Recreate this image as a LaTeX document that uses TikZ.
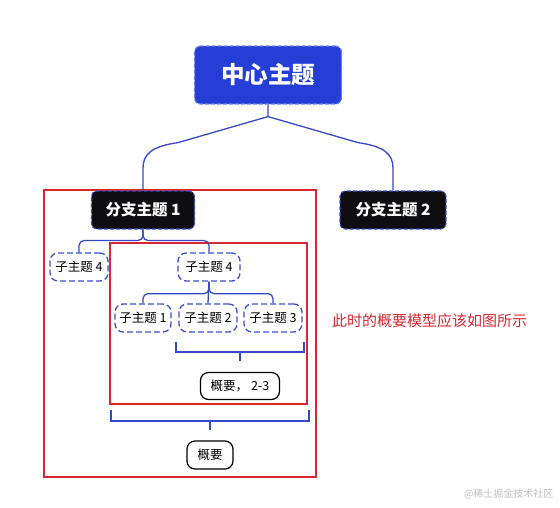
\documentclass[tikz,border=0pt]{standalone}
\usepackage{fontspec}
\setmainfont{Noto Sans CJK SC}
\usetikzlibrary{calc}
\definecolor{cblue}{RGB}{36,62,214}
\definecolor{lblue}{RGB}{52,72,200}
\definecolor{dblue}{RGB}{60,80,205}
\definecolor{rbox}{RGB}{218,38,48}
\definecolor{nblack}{RGB}{14,14,16}
\definecolor{cborder}{RGB}{110,130,235}
\tikzset{
  conn/.style={draw=lblue, line width=1.3pt},
  centralbox/.style={fill=cblue, draw=cborder, dash pattern=on 4pt off 2pt, line width=1.2pt, rounded corners=6pt, minimum width=147pt, minimum height=58pt, text=white, font=\fontsize{23.5}{26}\selectfont\bfseries},
  branchbox/.style={fill=nblack, draw=dblue, dash pattern=on 4pt off 2pt, line width=1.1pt, rounded corners=5pt, minimum height=38pt, text=white, font=\fontsize{15.5}{18}\selectfont\bfseries},
  subbox/.style={fill=white, draw=dblue, dash pattern=on 6pt off 3pt, line width=1.3pt, rounded corners=8pt, minimum width=58pt, minimum height=28pt, inner sep=1pt, font=\fontsize{12.5}{15}\selectfont},
  sumbox/.style={fill=white, draw=black, line width=1.2pt, rounded corners=8pt, minimum height=27pt, font=\fontsize{12.5}{15}\selectfont},
  redbox/.style={draw=rbox, line width=1.5pt},
}
\begin{document}
\begin{tikzpicture}[x=1pt,y=-1pt]
\useasboundingbox (0,0) rectangle (560,507);
% red boxes
\draw[redbox] (44,190) rectangle (316,477);
\draw[redbox] (110,243) rectangle (307,404);
% nodes
\node[centralbox] (c) at (268,75) {中心主题};
\node[branchbox, minimum width=103pt] (b1) at (143,210) {分支主题 1};
\node[branchbox, minimum width=106pt] (b2) at (393,210) {分支主题 2};
\node[subbox] (s4a) at (79,267) {子主题 4};
\node[subbox, minimum width=62pt] (s4b) at (209,267) {子主题 4};
\node[subbox, minimum width=56pt] (s1) at (143,318) {子主题 1};
\node[subbox] (s2) at (208,318) {子主题 2};
\node[subbox] (s3) at (273,318) {子主题 3};
\node[sumbox, minimum width=79pt] (sum1) at (240,386) {概要， 2-3};
\node[sumbox, minimum width=46pt, minimum height=28pt] (sum2) at (210,455) {概要};
% central to branches
\draw[conn] (c.south) -- ++(0,12) coordinate (fk)
  -- ($(fk)+(-90,26)$) .. controls ($(b1.north)+(8,-44)$) and ($(b1.north)+(0,-36)$) .. ($(b1.north)+(0,-22)$) -- (b1.north);
\draw[conn] (fk)
  -- ($(fk)+(90,26)$) .. controls ($(b2.north)+(-8,-44)$) and ($(b2.north)+(0,-36)$) .. ($(b2.north)+(0,-22)$) -- (b2.north);
% branch 1 children
\draw[conn, rounded corners=5pt] (b1.south) -- ++(0,11) -| (s4a.north);
\draw[conn, rounded corners=5pt] (b1.south) -- ++(0,11) -| (s4b.north);
% sub 4 children
\draw[conn, rounded corners=5pt] (s4b.south) -- ++(0,12) -| (s1.north);
\draw[conn] (s4b.south) -- (s2.north);
\draw[conn, rounded corners=5pt] (s4b.south) -- ++(0,12) -| (s3.north);
% summary bracket 1
\coordinate (k1l) at (176,342);
\coordinate (k1r) at (304,342);
\coordinate (k1m) at (240,352);
\draw[conn] (k1l) -- ++(0,10) -| (k1r);
\draw[conn] (k1m) -- ($(sum1.north)+(0,-11)$);
% summary bracket 2
\coordinate (k2l) at (111,410);
\coordinate (k2r) at (309,410);
\coordinate (k2m) at (210,421);
\draw[conn] (k2l) -- ++(0,11) -| (k2r);
\draw[conn] (k2m) -- ($(sum2.north)+(0,-10)$);
% note
\node[text=rbox, font=\fontsize{15}{18}\selectfont, anchor=west, inner sep=0pt] (note) at (332,321) {此时的概要模型应该如图所示};
\node[text=black!25, font=\fontsize{10}{12}\selectfont, anchor=east] (wm) at (557,494) {@稀土掘金技术社区};
\end{tikzpicture}
\end{document}
